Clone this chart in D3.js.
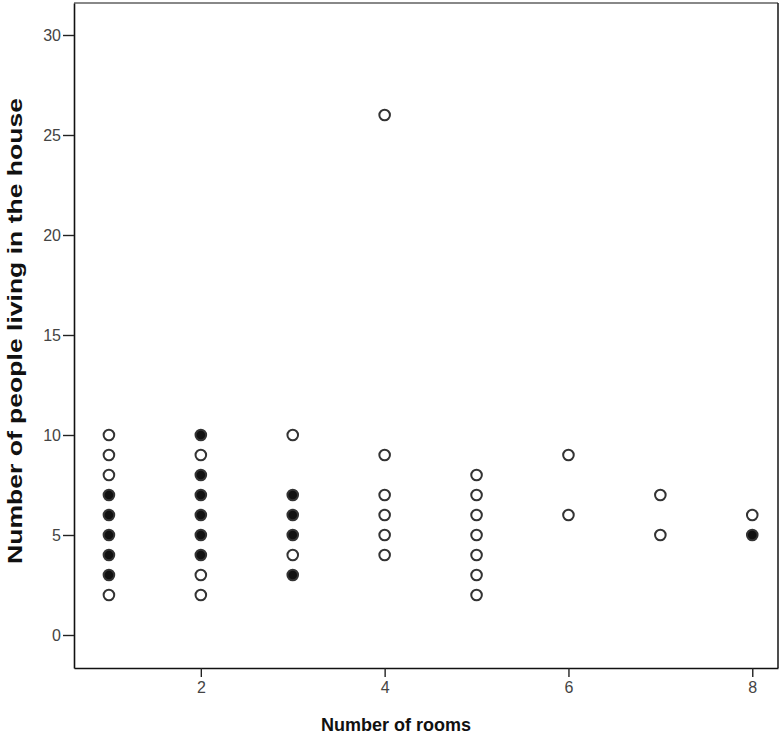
<!DOCTYPE html>
<html>
<head>
<meta charset="utf-8">
<script src="https://cdn.jsdelivr.net/npm/d3@7"></script>
<style>
  html, body { margin: 0; padding: 0; background: #fff; }
  svg { display: block; }
</style>
</head>
<body>
<svg id="chart" width="781" height="735"></svg>
<script>
// ---- data ----
const rooms  = [1,1,1,1,1,1,1,1,1, 2,2,2,2,2,2,2,2,2, 3,3,3,3,3,3, 4,4,4,4,4,4, 5,5,5,5,5,5,5, 6,6, 7,7, 8,8];
const people = [10,9,8,7,6,5,4,3,2, 10,9,8,7,6,5,4,3,2, 10,7,6,5,4,3, 26,9,7,6,5,4, 8,7,6,5,4,3,2, 9,6, 7,5, 6,5];
// 1 = filled marker (several overlapping cases), 0 = open marker
const filled = [0,0,0,1,1,1,1,1,0, 1,0,1,1,1,1,1,0,0, 0,1,1,1,0,1, 0,0,0,0,0,0, 0,0,0,0,0,0,0, 0,0, 0,0, 0,1];
const xTicks = [2,4,6,8];
const yTicks = [0,5,10,15,20,25,30];
const xTitle = "Number of rooms";
const yTitle = "Number of people living in the house";

// ---- layout ----
const pLeft = 74, pRight = 778, pTop = 3, pBottom = 668;
const x = d3.scaleLinear().domain([0.62, 8.28]).range([pLeft, pRight]);
const y = d3.scaleLinear().domain([-1.65, 31.6]).range([pBottom, pTop]);

const svg = d3.select("#chart");

// frame
svg.append("line").attr("x1", pLeft).attr("x2", pRight).attr("y1", pTop).attr("y2", pTop)
  .attr("stroke", "#888").attr("stroke-width", 2);
svg.append("line").attr("x1", pRight).attr("x2", pRight).attr("y1", pTop).attr("y2", pBottom)
  .attr("stroke", "#222").attr("stroke-width", 1.6);

// axes
const yAxis = svg.append("g").attr("transform", `translate(${pLeft},0)`)
  .call(d3.axisLeft(y).tickValues(yTicks).tickSize(11).tickPadding(2).tickSizeOuter(0));
const xAxis = svg.append("g").attr("transform", `translate(0,${pBottom})`)
  .call(d3.axisBottom(x).tickValues(xTicks).tickSize(9).tickPadding(5).tickSizeOuter(0));

[xAxis, yAxis].forEach(g => {
  g.select(".domain").attr("stroke", "#111").attr("stroke-width", 1.6);
  g.selectAll(".tick line").attr("stroke", "#222").attr("stroke-width", 1.4);
  g.selectAll(".tick text").attr("fill", "#444")
    .style("font-family", "'Liberation Sans', Arial, sans-serif").style("font-size", "16px");
});

// titles
svg.append("text").attr("x", (pLeft + pRight) / 2 - 30).attr("y", 731)
  .attr("text-anchor", "middle")
  .style("font-family", "'Liberation Sans', Arial, sans-serif")
  .style("font-size", "18px").style("font-weight", "bold").attr("fill", "#111")
  .text(xTitle);

svg.append("text").attr("transform", "translate(22,331) rotate(-90)")
  .attr("text-anchor", "middle")
  .attr("textLength", 466).attr("lengthAdjust", "spacingAndGlyphs")
  .style("font-family", "'Liberation Sans Narrow', 'Liberation Sans', Arial, sans-serif")
  .style("font-size", "21px").style("font-weight", "bold").attr("fill", "#111")
  .text(yTitle);

// points
const pts = rooms.map((r, i) => ({ r, p: people[i], f: filled[i] }));
svg.append("g").selectAll("circle").data(pts).join("circle")
  .attr("cx", d => x(d.r)).attr("cy", d => y(d.p)).attr("r", 5.3)
  .attr("fill", d => d.f ? "#111" : "#fff")
  .attr("stroke", "#333").attr("stroke-width", 2);
</script>
</body>
</html>
